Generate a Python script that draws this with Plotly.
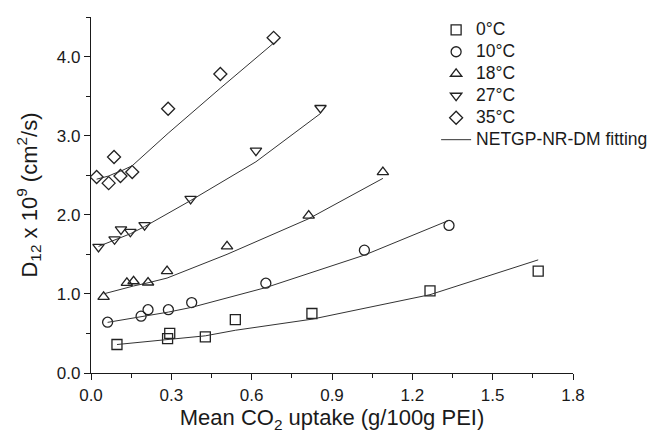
import plotly.graph_objects as go

# ---- data ----
labels = ["0°C", "10°C", "18°C", "27°C", "35°C"]
symbols = ["square-open", "circle-open", "triangle-up-open", "triangle-down-open", "diamond-open"]

x_0 = [0.097, 0.286, 0.294, 0.427, 0.539, 0.825, 1.266, 1.670]
y_0 = [0.36, 0.435, 0.50, 0.456, 0.675, 0.752, 1.038, 1.287]
fit_0 = [0.36, 0.42, 0.42, 0.47, 0.54, 0.68, 0.99, 1.43]

x_10 = [0.062, 0.187, 0.213, 0.289, 0.376, 0.653, 1.021, 1.337]
y_10 = [0.642, 0.718, 0.80, 0.80, 0.89, 1.135, 1.553, 1.865]
fit_10 = [0.64, 0.71, 0.73, 0.77, 0.83, 1.08, 1.49, 1.93]

x_18 = [0.047, 0.134, 0.159, 0.213, 0.284, 0.508, 0.813, 1.090]
y_18 = [0.962, 1.14, 1.16, 1.144, 1.287, 1.60, 1.99, 2.54]
fit_18 = [1.00, 1.08, 1.10, 1.14, 1.20, 1.50, 1.95, 2.46]

x_27 = [0.028, 0.088, 0.112, 0.147, 0.200, 0.372, 0.616, 0.857]
y_27 = [1.595, 1.69, 1.815, 1.785, 1.87, 2.20, 2.81, 3.35]
fit_27 = [1.60, 1.68, 1.71, 1.76, 1.85, 2.18, 2.67, 3.28]

x_35 = [0.021, 0.066, 0.086, 0.110, 0.154, 0.288, 0.483, 0.682]
y_35 = [2.477, 2.40, 2.73, 2.49, 2.54, 3.34, 3.78, 4.237]
fit_35 = [2.45, 2.49, 2.52, 2.55, 2.62, 3.03, 3.60, 4.17]

xs = [x_0, x_10, x_18, x_27, x_35]
ys = [y_0, y_10, y_18, y_27, y_35]
fits = [fit_0, fit_10, fit_18, fit_27, fit_35]
fit_label = "NETGP-NR-DM fitting"

FONT = "Liberation Sans, Arial, sans-serif"
INK = "#1a1a1a"


def big(txt):
    return '<span style="font-size:17.5px">' + txt + '</span>'


fig = go.Figure()
for lab, sym, xv, yv in zip(labels, symbols, xs, ys):
    fig.add_trace(go.Scatter(
        x=xv, y=yv, mode="markers", name=big(lab),
        marker=dict(symbol=sym, size=10, color="#222222", line=dict(width=1.3, color="#222222")),
    ))
for i, (xv, fv) in enumerate(zip(xs, fits)):
    fig.add_trace(go.Scatter(
        x=xv, y=fv, mode="lines", name=big(fit_label), showlegend=(i == 0),
        line=dict(color="#333333", width=1),
    ))

axis_common = dict(
    showline=True, linecolor=INK, linewidth=1.3, showgrid=False, zeroline=False,
    ticks="outside", ticklen=6, tickwidth=1.3, tickcolor=INK,
    tickfont=dict(family=FONT, size=17, color=INK),
    title_font=dict(family=FONT, size=22, color=INK),
)

fig.update_xaxes(
    range=[0, 1.8], dtick=0.3, tickformat=".1f",
    minor=dict(ticks="outside", ticklen=4, dtick=0.15, tickcolor=INK, tickwidth=1.3),
    title_text="Mean CO<sub>2</sub> uptake (g/100g PEI)", title_standoff=6,
    **axis_common,
)
fig.update_yaxes(
    range=[0, 4.5], dtick=1.0, tickformat=".1f",
    minor=dict(ticks="outside", ticklen=4, dtick=0.5, tickcolor=INK, tickwidth=1.3),
    title_text="D<sub>12</sub> x 10<sup>9</sup> (cm<sup>2</sup>/s)", title_standoff=13,
    **axis_common,
)

fig.update_layout(
    width=648, height=437,
    margin=dict(l=91, r=75, t=17, b=64, autoexpand=False),
    paper_bgcolor="white", plot_bgcolor="white",
    font=dict(family=FONT, color=INK),
    legend=dict(
        x=0.716, y=1.009, xanchor="left", yanchor="top",
        bgcolor="rgba(0,0,0,0)", borderwidth=0,
        font=dict(family=FONT, size=14.6, color=INK),
        itemsizing="trace", tracegroupgap=0,
    ),
    showlegend=True,
)

fig.write_html("out.html")
